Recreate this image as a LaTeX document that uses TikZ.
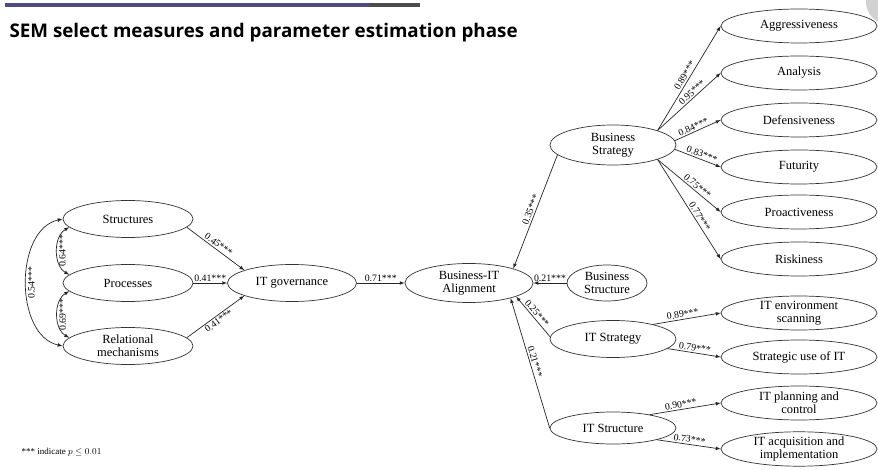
\documentclass[tikz,border=0pt]{standalone}
\usepackage{fontspec}
\setmainfont{Liberation Serif}
\newfontfamily\titlefont{Open Sans}
\usetikzlibrary{arrows,shapes.geometric}

\tikzset{
  var/.style={draw=black!80, ellipse, line width=0.7pt, inner sep=0pt,
    minimum width=128pt, minimum height=37pt, align=center,
    font=\fontsize{12.5}{13}\selectfont},
  ind/.style={var, minimum width=156pt, minimum height=34pt},
  lnk/.style={-latex, line width=0.7pt, draw=black!85},
  cor/.style={latex-latex, line width=0.7pt, draw=black!85},
  est/.style={midway, sloped, inner sep=1.5pt, font=\fontsize{9.8}{11}\selectfont}
}

\begin{document}
\begin{tikzpicture}[x=1pt,y=-1pt]
   \clip (0,0) rectangle (878,470);
   \fill[white] (0,0) rectangle (878,470);

   %% Kopf
   \fill[black!18] (888,2) circle (22);
   \draw[line width=3.5pt, color=blue!30!black!70] (5,5) -- (370,5);
   \draw[line width=3.5pt, color=black!70] (370,5) -- (420,5);
   \node[anchor=west, font=\titlefont\bfseries\fontsize{18.8}{21}\selectfont] (title) at (6,33)
      {SEM select measures and parameter estimation phase};

   %% IT governance
   \node[var, minimum width=130pt] (str) at (128,219) {Structures};
   \node[var, minimum width=130pt] (proc) at (128,283) {Processes};
   \node[var, minimum width=130pt] (rel) at (128,346) {Relational\\mechanisms};
   \node[var, minimum width=129pt] (itg) at (292,283) {IT governance};
   \node[var, minimum height=39pt] (bia) at (469,283) {Business-IT\\Alignment};

   %% Strategie und Struktur
   \node[var, minimum width=126pt, minimum height=40pt] (bs) at (613,145) {Business\\Strategy};
   \node[var, minimum width=80pt, minimum height=36pt] (bstr) at (607,283) {Business\\Structure};
   \node[var, minimum width=126pt] (its) at (613,339) {IT Strategy};
   \node[var, minimum width=126pt, minimum height=32pt] (itst) at (613,428) {IT Structure};

   %% Indikatoren
   \node[ind] (agg) at (799,26) {Aggressiveness};
   \node[ind] (ana) at (799,73) {Analysis};
   \node[ind] (def) at (799,120) {Defensiveness};
   \node[ind] (fut) at (799,167) {Futurity};
   \node[ind] (pro) at (799,212) {Proactiveness};
   \node[ind] (risk) at (799,259) {Riskiness};
   \node[ind] (env) at (799,313) {IT environment\\scanning};
   \node[ind] (strat) at (799,357) {Strategic use of IT};
   \node[ind] (plan) at (799,403) {IT planning and\\control};
   \node[ind] (acq) at (799,449) {IT acquisition and\\implementation};

   %% Korrelationen
   \draw[cor] (proc.172) to[bend left=60] node[est, below] {0.64***} (str.188);
   \draw[cor] (rel.172) to[bend left=60] node[est, below] {0.69***} (proc.188);
   \draw[cor] (rel.180) to[bend left=78] node[est, below] {0.54***} (str.180);

   %% Pfade
   \draw[lnk] (str.-8) -- node[est, above] {0.45***} (itg.165);
   \draw[lnk] (proc.east) -- node[est, above] {0.41***} (itg.west);
   \draw[lnk] (rel.8) -- node[est, below] {0.41***} (itg.195);
   \draw[lnk] (itg.east) -- node[est, above] {0.71***} (bia.west);
   \draw[lnk] (bs.190) -- node[est, above] {0.35***} (bia.18);
   \draw[lnk] (bstr.west) -- node[est, above] {0.21***} (bia.east);
   \draw[lnk] (its.178) -- node[est, above] {0.25***} (bia.-16);
   \draw[lnk] (itst.west) -- node[est, above] {0.21***} (bia.-20);

   \draw[lnk] (bs.18) -- node[est, above, pos=0.5] {0.89***} (agg.west);
   \draw[lnk] (bs.18) -- node[est, above, pos=0.6] {0.95***} (ana.west);
   \draw[lnk] (bs.4) -- node[est, above, pos=0.45] {0.84***} (def.west);
   \draw[lnk] (bs.-4) -- node[est, above, pos=0.55] {0.83***} (fut.west);
   \draw[lnk] (bs.-18) -- node[est, above, pos=0.58] {0.75***} (pro.west);
   \draw[lnk] (bs.-18) -- node[est, above, pos=0.6] {0.77***} (risk.west);

   \draw[lnk] (its.20) -- node[est, above, pos=0.45] {0.89***} (env.west);
   \draw[lnk] (its.-10) -- node[est, above] {0.79***} (strat.west);
   \draw[lnk] (itst.20) -- node[est, above, pos=0.45] {0.90***} (plan.west);
   \draw[lnk] (itst.-15) -- node[est, above] {0.73***} (acq.west);

   %% Fussnote
   \node[anchor=west, font=\fontsize{9}{10}\selectfont] (note) at (18,452) {*** indicate $p\leq 0.01$};
\end{tikzpicture}
\end{document}
